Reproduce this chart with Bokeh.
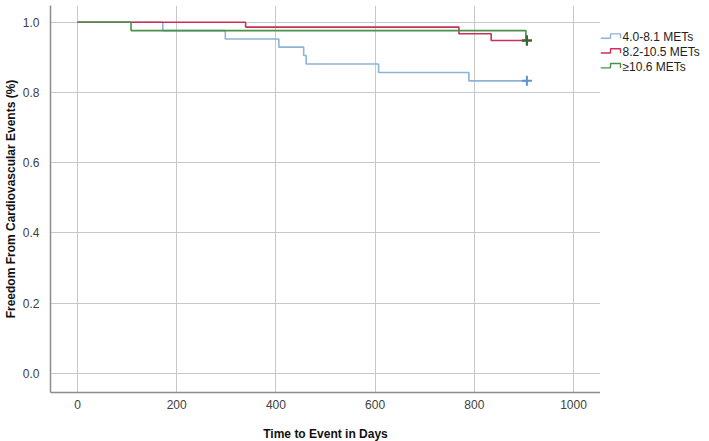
from bokeh.plotting import figure
from bokeh.models import Range1d, FixedTicker, CustomJSTickFormatter
from bokeh.layouts import row
from bokeh.core.properties import value
from bokeh.embed import file_html
from bokeh.resources import INLINE

# ---- data (Kaplan-Meier step curves) ----
series_names = ["4.0-8.1 METs", "8.2-10.5 METs", "\u226510.6 METs"]
blue_days = [0, 172, 298, 406, 456, 461, 607, 789, 906]
blue_surv = [1.0, 0.976, 0.952, 0.929, 0.905, 0.881, 0.857, 0.833, 0.833]
red_days = [0, 339, 769, 834, 906]
red_surv = [1.0, 0.986, 0.967, 0.948, 0.948]
green_days = [0, 108, 904, 906]
green_surv = [1.0, 0.976, 0.948, 0.948]
censor_day = 906

x_ticks = [0, 200, 400, 600, 800, 1000]
y_ticks = [0.0, 0.2, 0.4, 0.6, 0.8, 1.0]

colors = ["#8db4d8", "#c8325a", "#4b8f4b"]
censor_colors = ["#5f93d0", "#b02a50", "#2f6b2f"]
FONT = "Liberation Sans"

p = figure(frame_width=550, frame_height=387, output_backend="svg", toolbar_location=None,
           x_range=Range1d(-54.4, 1054.4), y_range=Range1d(-0.054, 1.0475),
           min_border_left=50, min_border_right=0, min_border_top=5, min_border_bottom=48)
p.outline_line_color = None
p.background_fill_color = "white"

for ax in (p.xaxis[0], p.yaxis[0]):
    ax.major_tick_line_color = None
    ax.minor_tick_line_color = None
    ax.axis_line_color = "#8c8c8c"
    ax.axis_line_width = 1.5
    ax.major_label_text_font = FONT
    ax.major_label_text_font_size = "12px"
    ax.major_label_text_color = "#404040"
    ax.axis_label_text_font = FONT
    ax.axis_label_text_font_size = "12px"
    ax.axis_label_text_font_style = "bold"
    ax.axis_label_text_color = "#111111"

p.xaxis.ticker = FixedTicker(ticks=x_ticks)
p.yaxis.ticker = FixedTicker(ticks=y_ticks)
p.yaxis.formatter = CustomJSTickFormatter(code="return tick.toFixed(1);")
p.xaxis.axis_label = "Time to Event in Days"
p.yaxis.axis_label = "Freedom From Cardiovascular Events (%)"
p.xaxis.major_label_standoff = 1
p.xaxis.axis_label_standoff = 15
p.yaxis.major_label_standoff = 5
p.yaxis.axis_label_standoff = 2

p.xgrid.ticker = FixedTicker(ticks=x_ticks)
p.ygrid.ticker = FixedTicker(ticks=y_ticks)
p.grid.grid_line_color = "#c8c8c8"
p.grid.grid_line_width = 1

curves = [(blue_days, blue_surv), (red_days, red_surv), (green_days, green_surv)]
for (d, s), c in zip(curves, colors):
    p.step(d, s, mode="after", line_color=c, line_width=1.6)
for (d, s), c in zip(curves, censor_colors):
    p.scatter([censor_day], [s[-1]], marker="cross", size=10, line_color=c, line_width=2)

# ---- legend (separate panel to the right, pixel coordinates) ----
leg = figure(width=109, height=440, output_backend="svg", toolbar_location=None,
             x_range=Range1d(0, 109), y_range=Range1d(440, 0),
             min_border_left=0, min_border_right=0, min_border_top=0, min_border_bottom=0,
             x_axis_location=None, y_axis_location=None)
leg.outline_line_color = None
leg.grid.visible = False
row_y = [36, 53, 70]
for name, c, yc in zip(series_names, colors, row_y):
    leg.line([0, 10, 10, 20, 20], [yc + 1.5, yc + 1.5, yc - 3.5, yc - 3.5, yc + 1.5],
             line_color=c, line_width=1.4)
    leg.text([22], [yc], text=[name], text_font=value(FONT), text_font_size="12px",
             text_color="#222222", text_baseline="middle", text_align="left")

layout = row(p, leg)
open("out.html", "w").write(file_html(layout, INLINE))
